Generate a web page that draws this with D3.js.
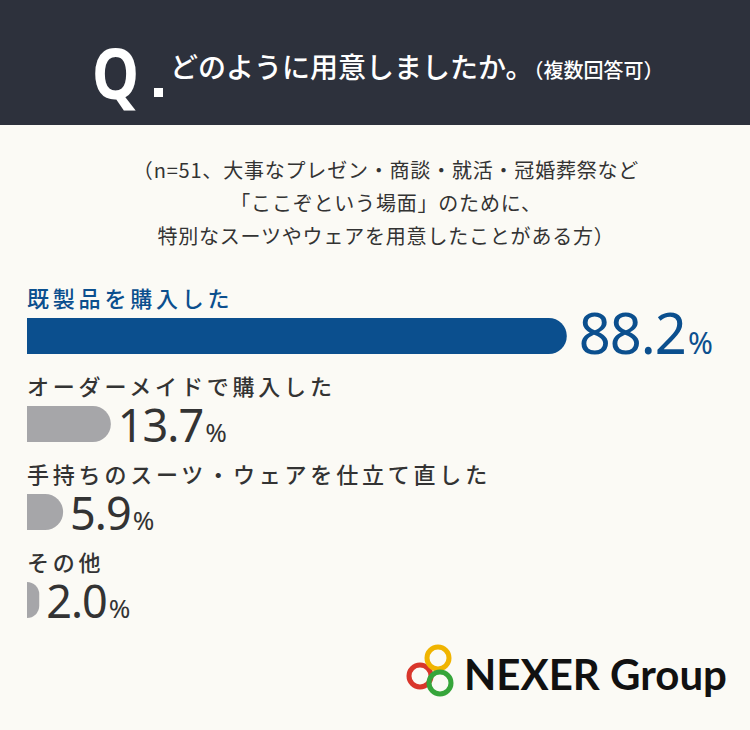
<!DOCTYPE html><html><head><meta charset="utf-8"><script src="https://cdn.jsdelivr.net/npm/d3@7"></script>
<style>body{margin:0}svg{display:block}</style></head><body><script>
const categories=["既製品を購入した","オーダーメイドで購入した","手持ちのスーツ・ウェアを仕立て直した","その他"];
const values=[88.2,13.7,5.9,2.0];
const colors=["#0b4f8e","#a6a6a9","#a6a6a9","#a6a6a9"];
const subtitle=["（n=51、大事なプレゼン・商談・就活・冠婚葬祭など","「ここぞという場面」のために、","特別なスーツやウェアを用意したことがある方）"];
const W=750,H=730,F="'Noto Sans CJK JP',sans-serif";
const svg=d3.select("body").append("svg").attr("width",W).attr("height",H);
svg.append("rect").attr("width",W).attr("height",H).attr("fill","#fbfaf5");
svg.append("rect").attr("width",W).attr("height",125).attr("fill","#2d313c");
svg.append("text").attr("x",92).attr("y",99).attr("fill","#fff").attr("font-family","'Noto Sans',sans-serif").attr("font-weight",700).attr("font-size",70)
  .attr("transform","translate(92,0) scale(0.85,1) translate(-92,0)").text("Q");
svg.append("rect").attr("x",154).attr("y",88).attr("width",9).attr("height",9).attr("fill","#fff");
const t=svg.append("text").attr("x",170).attr("y",78).attr("fill","#fff").attr("font-family",F).attr("font-weight",500);
t.append("tspan").attr("font-size",28).text("どのように用意しましたか。");
t.append("tspan").attr("font-size",20).text("（複数回答可）");
svg.selectAll(".sub").data(subtitle).join("text").attr("x",386).attr("y",(d,i)=>178+i*33).attr("text-anchor","middle")
 .attr("font-family",F).attr("font-size",20).attr("letter-spacing",0.8).attr("fill","#333").text(d=>d);
const x=d3.scaleLinear().domain([0,100]).range([0,612]);
const x0=27,r=18;
const ys=[318,406,494,582];
categories.forEach((c,i)=>{
  const y=ys[i],w=x(values[i]),col=i==0?"#0b4f8e":"#333";
  svg.append("text").attr("x",x0).attr("y",y-11).attr("font-family",F).attr("font-weight",500).attr("font-size",22)
    .attr("letter-spacing",3.8).attr("fill",col).text(c);
  const rr=Math.min(r,w);
  const p=d3.path();p.moveTo(x0,y);p.lineTo(x0+w-rr,y);p.arcTo(x0+w,y,x0+w,y+r,rr);p.arcTo(x0+w,y+2*r,x0+w-rr,y+2*r,rr);p.lineTo(x0,y+2*r);p.closePath();
  svg.append("path").attr("d",p.toString()).attr("fill",colors[i]);
  const vt=svg.append("text").attr("x",x0+w+(i==0?12:7)).attr("y",y+36).attr("font-family","'Noto Sans',sans-serif").attr("fill",i==0?"#0b4f8e":"#333");
  vt.append("tspan").attr("font-size",i==0?56:45).attr("letter-spacing",-1).text(values[i].toFixed(1));
  vt.append("tspan").attr("font-size",i==0?30:26).attr("dx",2).text("%");
});
// logo
[[420,676,"#d9362b"],[438,658,"#f0b400"],[440,683,"#36a53a"]].forEach(([cx,cy,c])=>
  svg.append("circle").attr("cx",cx).attr("cy",cy).attr("r",11).attr("fill","none").attr("stroke",c).attr("stroke-width",5));
svg.append("text").attr("x",464).attr("y",690).attr("font-family","Lato,sans-serif").attr("font-weight",700).attr("font-size",42).attr("fill","#111").text("NEXER Group");
</script></body></html>
